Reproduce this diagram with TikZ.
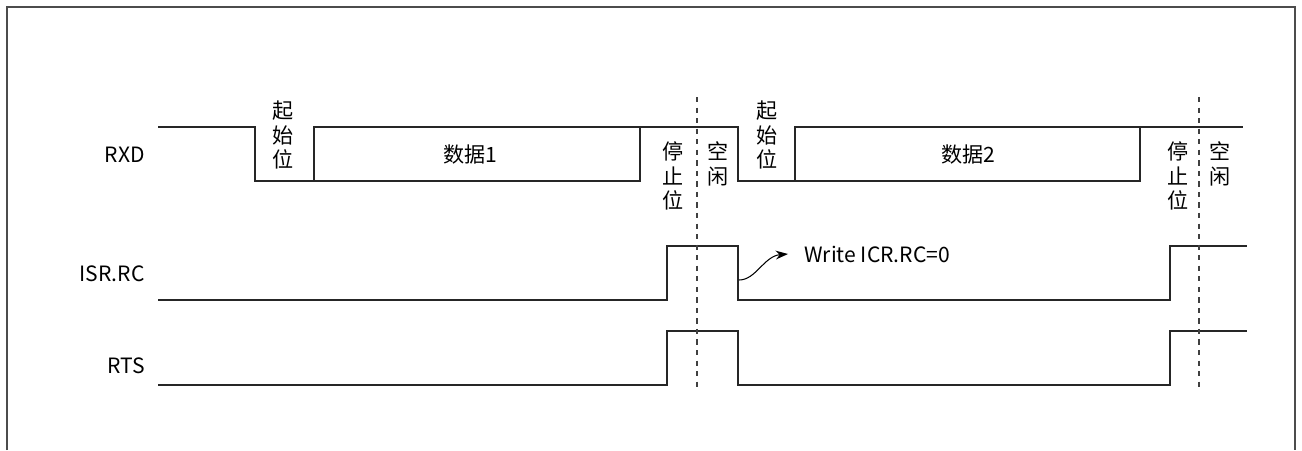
\documentclass[tikz,border=0pt]{standalone}
\usepackage{fontspec}
\setmainfont{Noto Sans CJK SC}
\usetikzlibrary{arrows.meta}
\begin{document}
\begin{tikzpicture}[x=0.02cm, y=-0.02cm, >={Stealth[length=7pt,width=5pt]},
    font=\fontsize{12}{13.9}\selectfont,
    wave/.style={line width=0.9pt, black!85},
    sep/.style={dashed, line width=0.6pt, black!75},
    vtext/.style={align=center, inner sep=0pt}]
  \useasboundingbox (0,0) rectangle (1302,450);

  % Frame
  \draw[line width=1.3pt, black!70] (7,450) -- (7,7) -- (1295,7) -- (1295,450);

  % Signal names
  \node[anchor=east, inner sep=0pt] (rxd) at (145,155) {RXD};
  \node[anchor=east, inner sep=0pt] (isr) at (145,274) {ISR.RC};
  \node[anchor=east, inner sep=0pt] (rts) at (145,366) {RTS};

  % RXD
  \draw[wave] (158,127) -- (255,127) -- (255,181) -- (640,181) -- (640,127);
  \draw[wave] (314,181) -- (314,127) -- (738,127) -- (738,181) -- (1140,181) -- (1140,127);
  \draw[wave] (795,181) -- (795,127) -- (1243,127);

  % ISR.RC
  \draw[wave] (158,300) -- (667,300) -- (667,246) -- (738,246) -- (738,300)
    -- (1170,300) -- (1170,246) -- (1247,246);

  % RTS
  \draw[wave] (158,385) -- (667,385) -- (667,331) -- (738,331) -- (738,385)
    -- (1170,385) -- (1170,331) -- (1247,331);

  % Dashed lines
  \draw[sep] (697,97) -- (697,388);
  \draw[sep] (1199,97) -- (1199,388);

  % Field labels
  \node[vtext] (start1) at (283,135) {起\\始\\位};
  \node (data1) at (470,155) {数据1};
  \node[vtext] (stop1) at (673,176) {停\\止\\位};
  \node[vtext] (idle1) at (718,164) {空\\闲};
  \node[vtext] (start2) at (767,135) {起\\始\\位};
  \node (data2) at (968,155) {数据2};
  \node[vtext] (stop2) at (1178,176) {停\\止\\位};
  \node[vtext] (idle2) at (1220,164) {空\\闲};

  % Clear note
  \coordinate (rcfall) at (739,280);
  \node[anchor=west, inner sep=0pt] (wicr) at (804,254) {Write ICR.RC=0};
  \draw[->, line width=0.6pt] (rcfall) .. controls (756,280) and (764,256) .. ([xshift=-0.32cm]wicr.west);
\end{tikzpicture}
\end{document}
